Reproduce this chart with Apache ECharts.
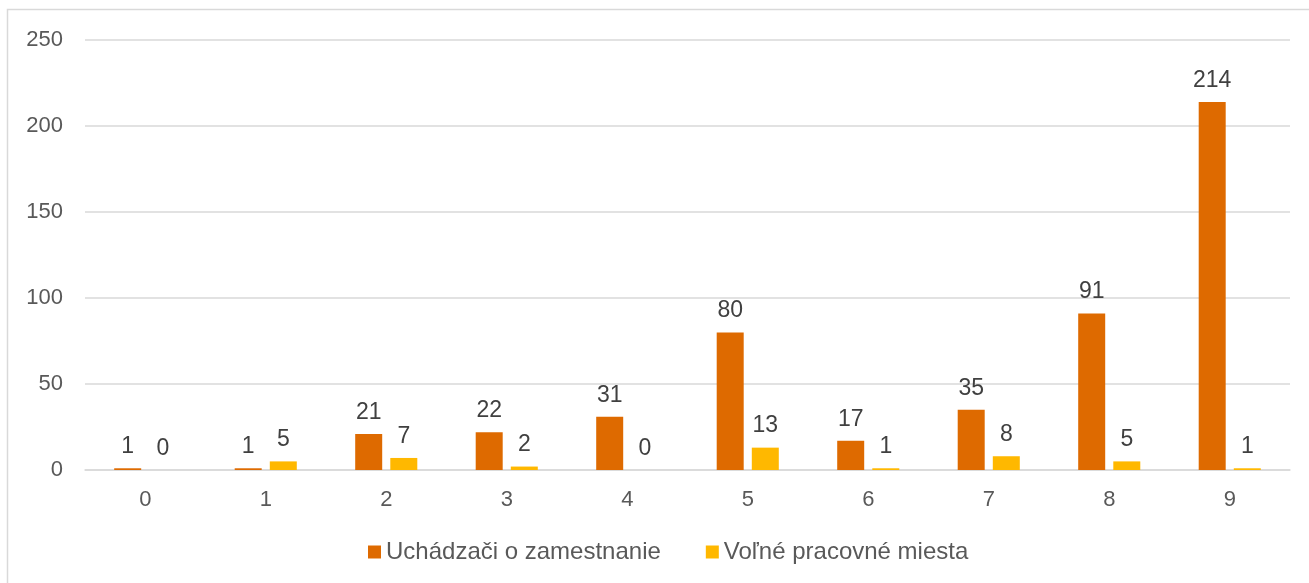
<!DOCTYPE html>
<html>
<head>
<meta charset="utf-8">
<script src="https://cdn.jsdelivr.net/npm/echarts@6/dist/echarts.min.js"></script>
<style>
  html, body { margin: 0; padding: 0; background: #fff; }
  #main { width: 1309px; height: 583px; }
</style>
</head>
<body>
<div id="main"></div>
<script>
// data
var categories = ['0', '1', '2', '3', '4', '5', '6', '7', '8', '9'];
var uchadzaci = [1, 1, 21, 22, 31, 80, 17, 35, 91, 214];
var volneMiesta = [0, 5, 7, 2, 0, 13, 1, 8, 5, 1];
var yTicks = [0, 50, 100, 150, 200, 250];

var myChart = echarts.init(document.getElementById('main'));

var labelStyle = {
    show: true,
    position: 'top',
    distance: 10,
    color: '#404040',
    fontSize: 23,
    fontFamily: 'Liberation Sans, Arial, sans-serif'
};

option = {
    animation: false,
    textStyle: { fontFamily: 'Liberation Sans, Arial, sans-serif' },
    graphic: [{
        type: 'rect',
        shape: { x: 7.5, y: 9.5, width: 1400, height: 700 },
        style: { fill: 'none', stroke: '#d9d9d9', lineWidth: 1.5 },
        silent: true
    }],
    grid: { left: 85, right: 19, top: 40, bottom: 113 },
    legend: {
        top: 540,
        left: 368,
        padding: 0,
        itemWidth: 13,
        itemHeight: 13,
        itemGap: 45,
        icon: 'rect',
        textStyle: { color: '#595959', fontSize: 24 },
        data: ['Uchádzači o zamestnanie', 'Voľné pracovné miesta']
    },
    xAxis: {
        type: 'category',
        data: categories,
        axisLine: { lineStyle: { color: '#d9d9d9', width: 1.5 } },
        axisTick: { show: false },
        axisLabel: { color: '#595959', fontSize: 22, margin: 19 }
    },
    yAxis: {
        type: 'value',
        min: yTicks[0],
        max: yTicks[yTicks.length - 1],
        interval: 50,
        axisLine: { show: false },
        axisTick: { show: false },
        axisLabel: { color: '#595959', fontSize: 22, margin: 22 },
        splitLine: { lineStyle: { color: '#d9d9d9', width: 1.5 } }
    },
    series: [
        {
            name: 'Uchádzači o zamestnanie',
            type: 'bar',
            data: uchadzaci,
            barWidth: 27,
            barGap: '30%',
            itemStyle: { color: '#DE6A00' },
            label: labelStyle
        },
        {
            name: 'Voľné pracovné miesta',
            type: 'bar',
            data: volneMiesta,
            barWidth: 27,
            itemStyle: { color: '#FFB800' },
            label: labelStyle
        }
    ]
};

myChart.setOption(option);
</script>
</body>
</html>
